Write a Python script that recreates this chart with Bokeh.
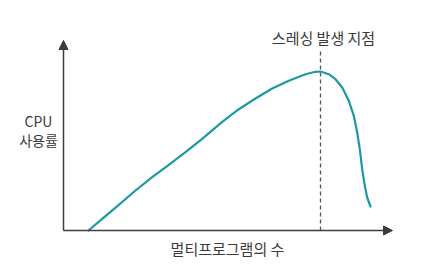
from bokeh.plotting import figure
from bokeh.models import Range1d, Arrow, NormalHead, Label
from bokeh.embed import file_html
from bokeh.resources import INLINE

# data: degree of multiprogramming (arbitrary units) vs CPU utilization (arbitrary units)
degree = [25, 38.7, 55.3, 72, 88.7, 105.3, 122, 138.7, 158.7, 175.3, 192, 208.7, 225.3,
          242, 252, 257, 265.3, 272, 278.7, 285.3, 290.3, 293.7, 296.3, 298.7, 301.3, 303.7, 307]
cpu_util = [0, 11.7, 25.7, 40, 53.3, 65.7, 78.3, 91.7, 108.7, 121.3, 132, 142, 149.7,
            156.3, 158.7, 159, 156.3, 151.3, 143, 129.7, 114.7, 98, 81.3, 61.3, 44.7, 33, 24]

x_label = "멀티프로그램의 수"
y_label_lines = ["CPU", "사용률"]
peak_label = "스레싱 발생 지점"

FONT = "Noto Sans CJK KR"
TEXT_COLOR = "#3a3a3a"
AXIS_COLOR = "#3c3c3c"
CURVE_COLOR = "#1d9aa1"

p = figure(width=421, height=264, output_backend="svg", toolbar_location=None,
           x_range=Range1d(-63, 358), y_range=Range1d(-34, 230),
           min_border=0, min_border_left=0, min_border_right=0,
           min_border_top=0, min_border_bottom=0)
p.axis.visible = False
p.grid.visible = False
p.outline_line_color = None
p.background_fill_color = "white"

# axes with arrows
p.add_layout(Arrow(end=NormalHead(size=9, fill_color=AXIS_COLOR, line_color=AXIS_COLOR),
                   x_start=0, y_start=0, x_end=329, y_end=0,
                   line_color=AXIS_COLOR, line_width=1.5))
p.add_layout(Arrow(end=NormalHead(size=9, fill_color=AXIS_COLOR, line_color=AXIS_COLOR),
                   x_start=0, y_start=0, x_end=0, y_end=190,
                   line_color=AXIS_COLOR, line_width=1.5))

# dashed line at peak
i_peak = max(range(len(cpu_util)), key=lambda i: cpu_util[i])
peak_x = degree[i_peak]
p.segment(x0=[peak_x], y0=[0], x1=[peak_x], y1=[180], line_color="#555555",
          line_width=1.3, line_dash="4 3")

# curve
p.line(degree, cpu_util, line_color=CURVE_COLOR, line_width=2.2, line_join="round", line_cap="round")

# labels
p.add_layout(Label(x=peak_x + 3, y=193, text=peak_label, text_font=FONT, text_font_size="15px",
                   text_color=TEXT_COLOR, text_align="center", text_baseline="middle"))
p.add_layout(Label(x=164, y=-18, text=x_label, text_font=FONT, text_font_size="15px",
                   text_color=TEXT_COLOR, text_align="center", text_baseline="middle"))
for k, t in enumerate(y_label_lines):
    p.add_layout(Label(x=-25, y=110 - 19 * k, text=t, text_font=FONT, text_font_size="14px",
                       text_color=TEXT_COLOR, text_align="center", text_baseline="middle"))

open("out.html", "w").write(file_html(p, INLINE))
